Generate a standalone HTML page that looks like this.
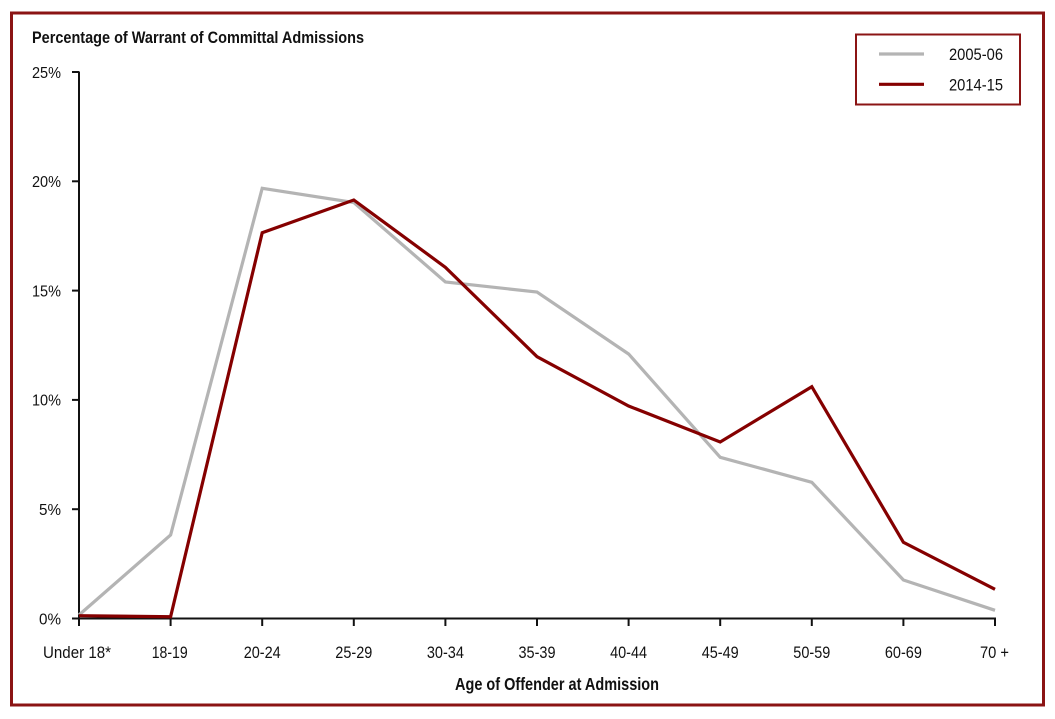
<!DOCTYPE html>
<html>
<head>
<meta charset="utf-8">
<style>
html,body{margin:0;padding:0;background:#fff;}
svg{display:block;}
text{font-family:"Liberation Sans",Arial,sans-serif;fill:#111;}
</style>
</head>
<body>
<svg width="1055" height="719" viewBox="0 0 1055 719" xmlns="http://www.w3.org/2000/svg">
  <rect x="0" y="0" width="1055" height="719" fill="#fff"/>
  <!-- outer border -->
  <rect x="11.5" y="13" width="1032" height="692" fill="none" stroke="#8b1414" stroke-width="3"/>

  <!-- title -->
  <text x="32" y="43" font-size="17" font-weight="bold" textLength="332" lengthAdjust="spacingAndGlyphs">Percentage of Warrant of Committal Admissions</text>

  <!-- y axis -->
  <line x1="79" y1="71.5" x2="79" y2="619.5" stroke="#111" stroke-width="2"/>
  <g stroke="#111" stroke-width="2">
    <line x1="72" y1="72" x2="79" y2="72"/>
    <line x1="72" y1="181.3" x2="79" y2="181.3"/>
    <line x1="72" y1="290.6" x2="79" y2="290.6"/>
    <line x1="72" y1="399.9" x2="79" y2="399.9"/>
    <line x1="72" y1="509.2" x2="79" y2="509.2"/>
    <line x1="72" y1="618.5" x2="79" y2="618.5"/>
  </g>
  <g font-size="16" text-anchor="end">
    <text x="61" y="77.8" textLength="29" lengthAdjust="spacingAndGlyphs">25%</text>
    <text x="61" y="187.1" textLength="29" lengthAdjust="spacingAndGlyphs">20%</text>
    <text x="61" y="296.4" textLength="29" lengthAdjust="spacingAndGlyphs">15%</text>
    <text x="61" y="405.7" textLength="29" lengthAdjust="spacingAndGlyphs">10%</text>
    <text x="61" y="515" textLength="22" lengthAdjust="spacingAndGlyphs">5%</text>
    <text x="61" y="624.3" textLength="22" lengthAdjust="spacingAndGlyphs">0%</text>
  </g>

  <!-- x axis -->
  <line x1="72" y1="618.5" x2="996" y2="618.5" stroke="#111" stroke-width="2"/>
  <g stroke="#111" stroke-width="2">
    <line x1="79" y1="618.5" x2="79" y2="626"/>
    <line x1="170.6" y1="618.5" x2="170.6" y2="626"/>
    <line x1="262.2" y1="618.5" x2="262.2" y2="626"/>
    <line x1="353.8" y1="618.5" x2="353.8" y2="626"/>
    <line x1="445.4" y1="618.5" x2="445.4" y2="626"/>
    <line x1="537" y1="618.5" x2="537" y2="626"/>
    <line x1="628.6" y1="618.5" x2="628.6" y2="626"/>
    <line x1="720.2" y1="618.5" x2="720.2" y2="626"/>
    <line x1="811.8" y1="618.5" x2="811.8" y2="626"/>
    <line x1="903.4" y1="618.5" x2="903.4" y2="626"/>
    <line x1="995" y1="618.5" x2="995" y2="626"/>
  </g>
  <g font-size="16.5" text-anchor="middle">
    <text x="77" y="658" textLength="68" lengthAdjust="spacingAndGlyphs">Under 18*</text>
    <text x="169.7" y="658" textLength="36" lengthAdjust="spacingAndGlyphs">18-19</text>
    <text x="262.2" y="658" textLength="37" lengthAdjust="spacingAndGlyphs">20-24</text>
    <text x="353.8" y="658" textLength="37" lengthAdjust="spacingAndGlyphs">25-29</text>
    <text x="445.4" y="658" textLength="37" lengthAdjust="spacingAndGlyphs">30-34</text>
    <text x="537" y="658" textLength="37" lengthAdjust="spacingAndGlyphs">35-39</text>
    <text x="628.6" y="658" textLength="37" lengthAdjust="spacingAndGlyphs">40-44</text>
    <text x="720.2" y="658" textLength="37" lengthAdjust="spacingAndGlyphs">45-49</text>
    <text x="811.8" y="658" textLength="37" lengthAdjust="spacingAndGlyphs">50-59</text>
    <text x="903.4" y="658" textLength="37" lengthAdjust="spacingAndGlyphs">60-69</text>
    <text x="994.5" y="658" textLength="29" lengthAdjust="spacingAndGlyphs">70 +</text>
  </g>
  <text x="557" y="690" font-size="17.5" font-weight="bold" text-anchor="middle" textLength="204" lengthAdjust="spacingAndGlyphs">Age of Offender at Admission</text>

  <!-- series 2005-06 -->
  <polyline fill="none" stroke="#b4b4b4" stroke-width="3.2" stroke-linejoin="miter"
    points="79,615 170.6,535 262.2,188.3 353.8,202.5 445.4,282 537,292 628.6,354 720.2,457.3 811.8,482.3 903.4,580 995,610.3"/>
  <!-- series 2014-15 -->
  <polyline fill="none" stroke="#850000" stroke-width="3.2" stroke-linejoin="miter"
    points="79,615.7 170.6,616.7 262.2,232.7 353.8,200 445.4,267.3 537,356.7 628.6,406 720.2,442 811.8,386.7 903.4,542.3 995,589.3"/>

  <!-- legend -->
  <rect x="856" y="34.5" width="164" height="70" fill="#fff" stroke="#8b1414" stroke-width="2"/>
  <line x1="879" y1="54" x2="924" y2="54" stroke="#b4b4b4" stroke-width="3.2"/>
  <line x1="879" y1="84.3" x2="924" y2="84.3" stroke="#850000" stroke-width="3.2"/>
  <g font-size="17">
    <text x="949" y="60" textLength="54" lengthAdjust="spacingAndGlyphs">2005-06</text>
    <text x="949" y="90.5" textLength="54" lengthAdjust="spacingAndGlyphs">2014-15</text>
  </g>
</svg>
</body>
</html>
